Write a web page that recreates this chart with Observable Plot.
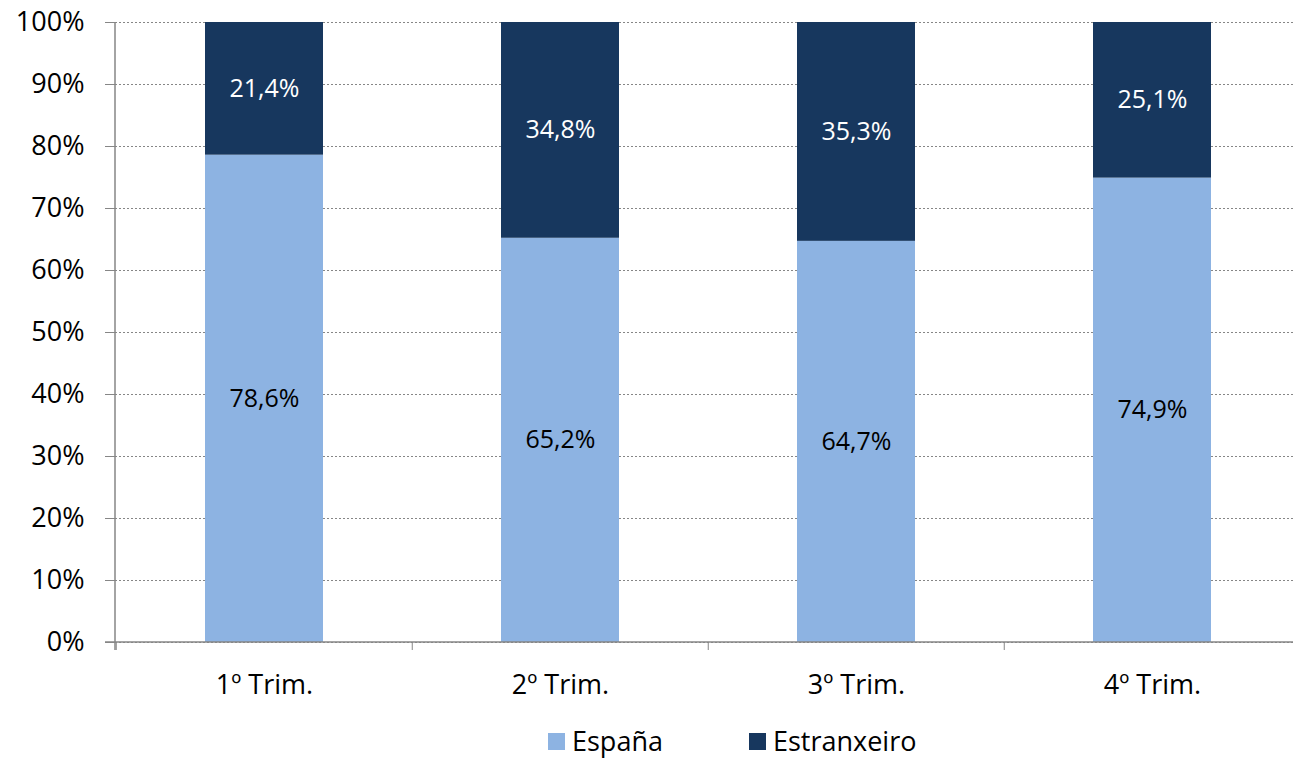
<!DOCTYPE html>
<html>
<head>
<meta charset="utf-8">
<script src="https://cdn.jsdelivr.net/npm/d3@7"></script>
<script src="https://cdn.jsdelivr.net/npm/@observablehq/plot@0.6"></script>
<style>
  html, body { margin: 0; padding: 0; background: #fff; overflow: hidden; }
  body { width: 1293px; height: 760px; font-family: "Open Sans", sans-serif; }
  #legend { display: flex; justify-content: flex-start; align-items: center; font-size: 27px; color: #000; margin-top: 16px; padding-left: 548px; line-height: 36px; }
  .item { display: flex; align-items: center; margin-right: 86px; }
  .sw { width: 17px; height: 17px; margin-right: 7px; }
</style>
</head>
<body>
<div id="chart"></div>
<div id="legend"></div>
<script>
const categories = ["1º Trim.", "2º Trim.", "3º Trim.", "4º Trim."];
const series = ["España", "Estranxeiro"];
const espana = [78.6, 65.2, 64.7, 74.9];
const estranxeiro = [21.4, 34.8, 35.3, 25.1];
const colors = ["#8DB3E2", "#17375E"];
const labelColors = ["#000000", "#ffffff"];
const yTicks = [0, 10, 20, 30, 40, 50, 60, 70, 80, 90, 100];

const data = [];
categories.forEach((c, i) => {
  data.push({cat: c, series: series[0], value: espana[i]});
  data.push({cat: c, series: series[1], value: estranxeiro[i]});
});

const width = 1293, height = 707, marginLeft = 115, marginRight = -8, marginTop = 22, marginBottom = 65;
const step = (width - marginLeft - marginRight) / categories.length;
const fmt = v => v.toFixed(1).replace(".", ",") + "%";

const chart = Plot.plot({
  width, height,
  marginLeft, marginRight, marginTop, marginBottom,
  style: {fontFamily: "Open Sans, sans-serif", fontSize: "24px", color: "#000", background: "#fff", overflow: "visible"},
  x: {domain: categories, paddingInner: 0.6, paddingOuter: 0.3, axis: null, label: null},
  y: {domain: [0, 100], axis: null, label: null},
  color: {domain: series, range: colors},
  marks: [
    Plot.gridY(yTicks, {stroke: "#868686", strokeOpacity: 1, strokeDasharray: "2,2", strokeWidth: 1}),
    Plot.barY(data, {x: "cat", y: "value", fill: "series", order: series}),
    Plot.text(data, Plot.stackY({x: "cat", y: "value", order: series, text: d => fmt(d.value),
      fill: d => labelColors[series.indexOf(d.series)], fontSize: 25})),
    Plot.axisY(yTicks, {tickSize: 10, tickPadding: 21, tickFormat: d => d + "%", stroke: "#868686", fill: "#000", fontSize: 27, anchor: "left", label: null}),
    Plot.axisX({tickSize: 8, dx: -step / 2, text: null, stroke: "#868686", label: null}),
    Plot.axisX({tickSize: 0, tickPadding: 32, fontSize: 27, fill: "#000", label: null})
  ]
});
document.getElementById("chart").appendChild(chart);
const svg = d3.select(chart);
const yBottom = height - marginBottom;
svg.append("line").attr("x1", marginLeft).attr("x2", marginLeft).attr("y1", marginTop).attr("y2", yBottom + 8).attr("stroke", "#868686").attr("stroke-width", 1.5);
svg.append("line").attr("x1", marginLeft - 10).attr("x2", width).attr("y1", yBottom).attr("y2", yBottom).attr("stroke", "#868686").attr("stroke-width", 1.5);

const legend = document.getElementById("legend");
series.forEach((s, i) => {
  const it = document.createElement("div");
  it.className = "item";
  it.innerHTML = `<div class="sw" style="background:${colors[i]}"></div><span>${s}</span>`;
  legend.appendChild(it);
});
</script>
</body>
</html>
